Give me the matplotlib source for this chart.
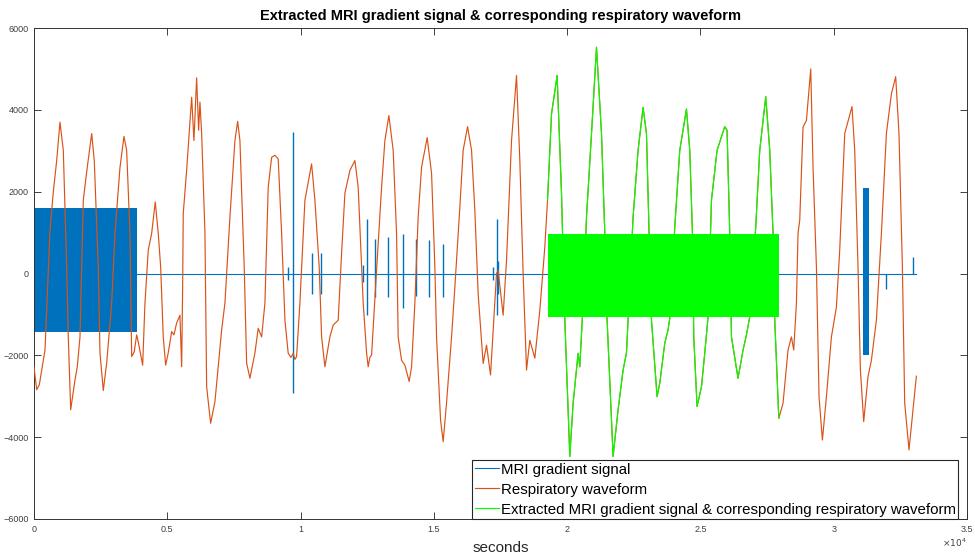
import matplotlib
matplotlib.use("Agg")
import matplotlib.pyplot as plt
import numpy as np

plt.rcParams['font.family'] = ['Liberation Sans', 'DejaVu Sans']

# ---------------- data ----------------
resp_t = [0, 101, 199, 413, 600, 724, 851, 975, 1099, 1226, 1286, 1376, 1538, 1624, 1725,
          1849, 1999, 2164, 2261, 2411, 2475, 2599, 2726, 2914, 3038, 3225, 3375, 3476, 3600,
          3664, 3761, 3851, 3911, 4076, 4163, 4286, 4414, 4549, 4661, 4751, 4849, 4939, 5036,
          5164, 5250, 5351, 5475, 5539, 5576, 5599, 5726, 5914, 6000, 6101, 6176, 6225, 6289,
          6413, 6476, 6626, 6788, 7039, 7163, 7350, 7538, 7639, 7725, 7886, 7976, 8100, 8288,
          8411, 8539, 8663, 8786, 8914, 9038, 9161, 9289, 9413, 9536, 9640, 9724, 9790, 9851,
          9975, 10163, 10414, 10538, 10699, 10789, 10913, 11100, 11224, 11411, 11539, 11663,
          11850, 12038, 12161, 12349, 12476, 12536, 12600, 12664, 12851, 13039, 13163, 13313,
          13474, 13601, 13661, 13789, 13913, 14074, 14164, 14288, 14411, 14539, 14749, 14914,
          15038, 15101, 15251, 15349, 15476, 15664, 15788, 15975, 16099, 16264, 16414, 16538,
          16661, 16849, 16976, 17126, 17351, 17411, 17599, 17726, 17914, 18101, 18225, 18349,
          18476, 18600, 18788, 18975, 19163, 19264, 19414, 19624, 19789, 19913, 20100, 20224,
          20411, 20475, 20599, 20726, 20914, 21101, 21289, 21413, 21499, 21724, 21911, 22099,
          22226, 22474, 22661, 22849, 22976, 23074, 23164, 23374, 23475, 23663, 23786, 23850,
          24038, 24225, 24476, 24600, 24701, 24750, 24874, 25039, 25163, 25286, 25414, 25624,
          25913, 25999, 26100, 26164, 26411, 26599, 26726, 26850, 27075, 27225, 27450, 27600,
          27724, 27788, 27940, 28099, 28286, 28414, 28500, 28601, 28661, 28725, 28849, 28976,
          29138, 29224, 29351, 29449, 29576, 29726, 29914, 30101, 30225, 30413, 30686, 30788,
          30911, 31001, 31125, 31286, 31414, 31601, 31789, 31976, 32164, 32325, 32449, 32576,
          32663, 32824, 32974, 33101]
resp_v = [-2280, -2840, -2720, -1870, 1060, 1990, 2760, 3700, 3010, 160, -1550, -3330, -2600,
          -2280, -1550, 1790, 2600, 3420, 2760, 160, -1940, -2860, -2190, -720, 980, 2590, 3350,
          3010, 980, -2030, -1910, -1500, -1670, -2240, -720, 570, 980, 1750, 980, 160, -1550,
          -2240, -1940, -1420, -1500, -1210, -1020, -2280, -330, 1470, 2520, 4310, 3250, 4780,
          3500, 4190, 3420, 980, -2770, -3660, -3130, -1380, -720, 1380, 3250, 3720, 3250, 160,
          -2190, -2560, -1940, -1340, -1550, -720, 2110, 2840, 2890, 2800, 980, -1140, -1950,
          -2050, -1950, -2100, -2030, -720, 1790, 2680, 1790, 160, -1550, -2280, -1550, -1260,
          -1140, 500, 1960, 2520, 2760, 2110, -720, -1940, -2280, -2050, -1990, 80, 2110, 3250,
          3860, 3010, 980, -1550, -2120, -2240, -2640, -2280, -720, 1380, 2600, 3320, 2450, 160,
          -1550, -3580, -4110, -3160, -1550, -330, 1620, 3010, 3590, 3010, 1540, -490, -2200,
          -1750, -2480, 0, 80, -1020, 320, 3250, 4840, 2760, 0, -2360, -1630, -2070, -900, 650,
          1800, 3900, 4840, 1950, -1140, -4470, -3170, -1950, -2280, -720, 1380, 3420, 5530,
          3420, 980, -1140, -4470, -3330, -2360, -1940, 1380, 3010, 4060, 3420, 980, -1140,
          -3010, -2680, -1700, -1380, -1090, 1140, 3010, 4020, 3010, 980, -1550, -3250, -2770,
          -1940, -1060, 1790, 3010, 3590, 3500, 980, -1550, -2560, -1870, -1500, -1060, 1140,
          3010, 4320, 3010, 980, -1140, -3540, -3170, -1870, -1550, -1870, -720, 980, 1300,
          3580, 3740, 5000, 2600, 160, -3010, -4070, -3010, -1550, -820, 570, 3420, 4080, 3010,
          160, -2360, -3620, -2520, -2120, -1140, 980, 3420, 4390, 4810, 3420, 160, -3170,
          -4310, -3330, -2510]

# MRI gradient signal: baseline span, dense-oscillation blocks and isolated spikes
grad_span = [0, 33075]
grad_block_t0 = [0, 31100]
grad_block_t1 = [3860, 31320]
grad_block_lo = [-1440, -2000]
grad_block_hi = [1610, 2100]
spike_t = [9530, 9700, 10420, 10770, 12350, 12490, 12800, 13280, 13830, 14330, 14820,
           15330, 17200, 17360, 17420, 31976, 32974]
spike_lo = [-150, -2930, -510, -490, -200, -1020, -580, -580, -850, -540, -580, -580,
            -170, -1020, -500, -370, 0]
spike_hi = [150, 3450, 500, 500, 200, 1320, 850, 880, 970, 850, 830, 730, 170, 1340, 300,
            0, 400]

# extracted part (green)
ext_t0 = 19270
ext_t1 = 27940
ext_lo = -1070
ext_hi = 970

title = "Extracted MRI gradient signal & corresponding respiratory waveform"
legend_labels = ["MRI gradient signal", "Respiratory waveform",
                 "Extracted MRI gradient signal & corresponding respiratory waveform"]
xticks = [0, 5000, 10000, 15000, 20000, 25000, 30000, 35000]
xtick_labels = ["0", "0.5", "1", "1.5", "2", "2.5", "3", "3.5"]
yticks = [-6000, -4000, -2000, 0, 2000, 4000, 6000]

# ---------------- drawing ----------------
BLUE = "#0072BD"
ORANGE = "#D95319"
GREEN = "#00FF00"

fig = plt.figure(figsize=(9.75, 5.59), dpi=100)
ax = fig.add_axes([34/975, 1-519/559, 933/975, 491/559])

h_grad, = ax.plot(grad_span, [0, 0], color=BLUE, lw=0.8, zorder=2, label=legend_labels[0])
for a, b, lo, hi in zip(grad_block_t0, grad_block_t1, grad_block_lo, grad_block_hi):
    ax.fill_between([a, b], [lo, lo], [hi, hi], color=BLUE, lw=0, zorder=2)
ax.vlines(spike_t, spike_lo, spike_hi, color=BLUE, lw=1.0, zorder=2)

rt = np.array(resp_t)
rv = np.array(resp_v)
h_resp, = ax.plot(rt, rv, color=ORANGE, lw=0.85, zorder=3, label=legend_labels[1])

mask = (rt >= 19264) & (rt <= ext_t1)
ax.fill_between([ext_t0, ext_t1], [ext_lo, ext_lo], [ext_hi, ext_hi], color=GREEN, lw=0, zorder=4)
h_ext, = ax.plot(rt[mask], rv[mask], color=GREEN, lw=0.85, zorder=4, label=legend_labels[2])

ax.set_xlim(0, 35000)
ax.set_ylim(-6000, 6000)
ax.set_xticks(xticks)
ax.set_xticklabels(xtick_labels)
ax.set_yticks(yticks)
ax.tick_params(direction='in', top=True, right=True, length=5, width=0.7,
               labelsize=6.5, labelcolor='#404040', colors='#404040', pad=4)
for s in ax.spines.values():
    s.set_color('#333333')
    s.set_linewidth(0.7)

ax.set_title(title, fontsize=10.5, fontweight='bold', pad=6)
ax.set_xlabel("seconds", fontsize=11, color='#262626', labelpad=5)
ax.text(1.0, -0.035, r"$\times10^{4}$", transform=ax.transAxes, ha='right', va='top',
        fontsize=6.5, color='#404040')

leg = ax.legend(handles=[h_grad, h_resp, h_ext], loc='lower right',
                bbox_to_anchor=((958-34)/933, 0.0), borderaxespad=0, fontsize=10.8,
                handlelength=1.6, handletextpad=0.13, labelspacing=0.4, borderpad=0.16,
                frameon=True, fancybox=False, framealpha=1)
leg.get_frame().set_edgecolor('#262626')
leg.get_frame().set_linewidth(0.8)
leg.set_zorder(10)

fig.savefig("out.png", dpi=100)
